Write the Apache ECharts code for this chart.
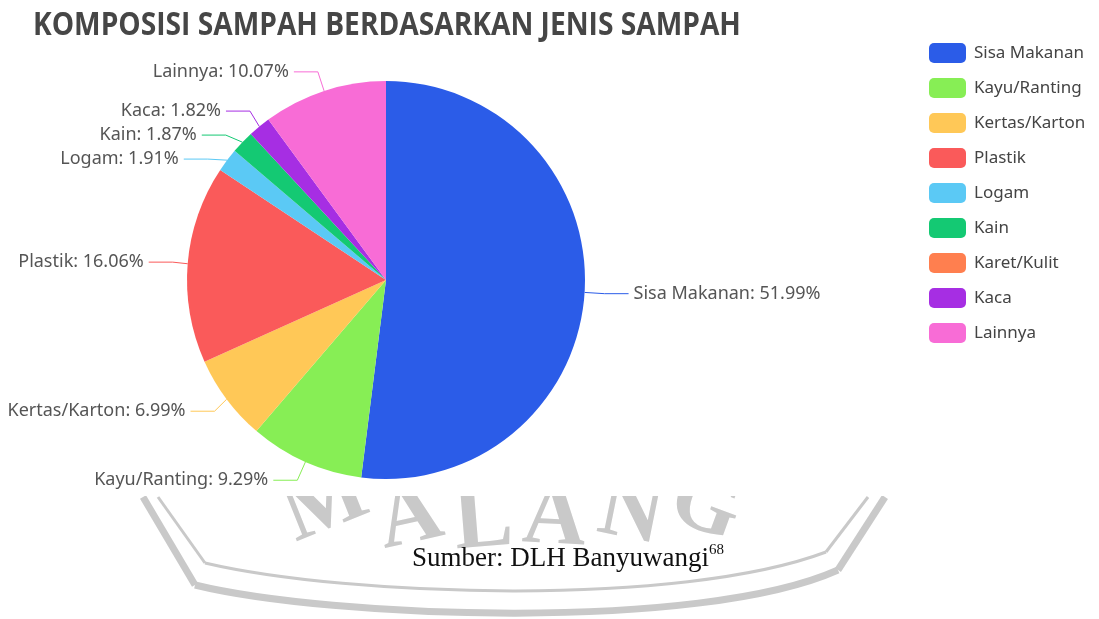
<!DOCTYPE html>
<html>
<head>
<meta charset="utf-8">
<script src="https://cdn.jsdelivr.net/npm/echarts@6/dist/echarts.min.js"></script>
<style>
  html, body { margin: 0; padding: 0; background: #fff; }
  #chart { width: 1099px; height: 619px; }
</style>
</head>
<body>
<div id="chart"></div>
<script>
// data (persen)
const categories = ['Sisa Makanan', 'Kayu/Ranting', 'Kertas/Karton', 'Plastik', 'Logam', 'Kain', 'Karet/Kulit', 'Kaca', 'Lainnya'];
const values = [51.99, 9.29, 6.99, 16.06, 1.91, 1.87, 0, 1.82, 10.07];
const colors = ['#2B5CE8', '#87EE55', '#FFC857', '#FA5A5A', '#5BC9F5', '#14C973', '#FF7F4F', '#A62EE3', '#F86CD6'];
const titleText = 'KOMPOSISI SAMPAH BERDASARKAN JENIS SAMPAH';

const chart = echarts.init(document.getElementById('chart'));

const pieData = categories.map((name, i) => {
    const item = { name: name, value: values[i] };
    if (values[i] === 0) {
        // nilai nol tidak diberi label di gambar asli
        item.label = { show: false };
        item.labelLine = { show: false };
    }
    return item;
});

const wm = '#c9c9c9';
const wmFont = 'bold 88px "Liberation Serif"';

// huruf watermark "MALANG" (y = garis bawah huruf)
function wmLetter(ch, x, y, rot) {
    return { type: 'text', z: 0, x: x, y: y + 19, rotation: rot, style: { text: ch, font: wmFont, fill: wm, align: 'center', verticalAlign: 'bottom' } };
}

const option = {
    color: colors,
    title: {
        text: '{a|Sumber: DLH Banyuwangi}{b|68}',
        left: 407,
        top: 538,
        z: 10,
        textStyle: {
            rich: {
                a: { fontFamily: 'Liberation Serif', fontWeight: 'normal', fontSize: 27, color: '#111', lineHeight: 32 },
                b: { fontFamily: 'Liberation Serif', fontWeight: 'normal', fontSize: 15, color: '#111', verticalAlign: 'top', lineHeight: 32, padding: [0, 0, 14, 0] },
            },
        },
    },
    legend: {
        orient: 'vertical',
        left: 924,
        top: 38,
        itemWidth: 37,
        itemHeight: 20,
        itemGap: 15,
        icon: 'roundRect',
        textStyle: {
            fontFamily: 'Noto Sans',
            fontSize: 17,
            color: '#444',
            padding: [0, 0, 0, 3],
        },
        data: categories,
    },
    graphic: [
        // watermark samar di bawah grafik
        { type: 'polyline', z: 0, shape: { points: [[143, 497], [195, 585]] }, style: { stroke: wm, lineWidth: 7, fill: null } },
        { type: 'bezierCurve', z: 0, shape: { x1: 195, y1: 585, cpx1: 330, cpy1: 618, cpx2: 700, cpy2: 632, x2: 838, y2: 570 }, style: { stroke: wm, lineWidth: 7, fill: null } },
        { type: 'polyline', z: 0, shape: { points: [[838, 570], [885, 497]] }, style: { stroke: wm, lineWidth: 7, fill: null } },
        { type: 'polyline', z: 0, shape: { points: [[158, 497], [205, 563]] }, style: { stroke: wm, lineWidth: 3, fill: null } },
        { type: 'bezierCurve', z: 0, shape: { x1: 205, y1: 563, cpx1: 350, cpy1: 597, cpx2: 680, cpy2: 607, x2: 826, y2: 552 }, style: { stroke: wm, lineWidth: 3, fill: null } },
        { type: 'polyline', z: 0, shape: { points: [[826, 552], [868, 497]] }, style: { stroke: wm, lineWidth: 3, fill: null } },
        wmLetter('M', 342, 527, 0.38),
        wmLetter('A', 420, 543, 0.22),
        wmLetter('L', 487, 548, 0.08),
        wmLetter('A', 552, 545, -0.05),
        wmLetter('N', 622, 539, -0.2),
        wmLetter('G', 690, 530, -0.35),
        // kotak putih tangkapan layar grafik
        { type: 'rect', z: 1, shape: { x: 0, y: 0, width: 1099, height: 496 }, style: { fill: '#fff' } },
        // judul grafik (huruf agak rapat)
        { type: 'text', z: 10, x: 33, y: 10, scaleX: 0.88, style: { text: titleText, font: 'bold 32px "Open Sans"', fill: '#464646', verticalAlign: 'top' } },
    ],
    series: [
        {
            type: 'pie',
            center: [386, 280],
            radius: 199,
            startAngle: 90,
            clockwise: true,
            z: 5,
            itemStyle: { borderWidth: 0 },
            label: {
                formatter: '{b}: {d}%',
                fontFamily: 'Noto Sans',
                fontSize: 18,
                lineHeight: 22,
                color: '#555',
                overflow: 'none',
            },
            labelLine: {
                length: 20,
                length2: 24,
            },
            emphasis: { scale: false },
            data: pieData,
        },
    ],
};

chart.setOption(option);
</script>
</body>
</html>
